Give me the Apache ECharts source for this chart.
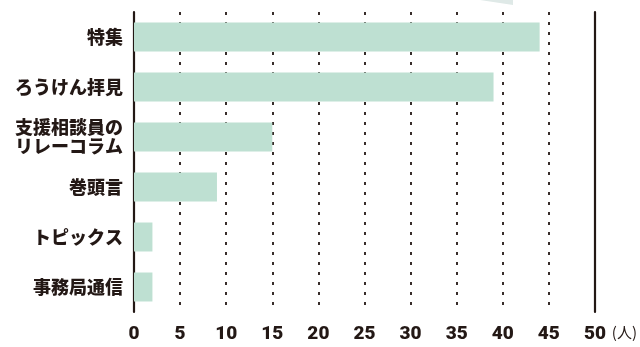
<!DOCTYPE html>
<html>
<head>
<meta charset="utf-8">
<script src="https://cdn.jsdelivr.net/npm/echarts@6/dist/echarts.min.js"></script>
<style>
  html, body { margin: 0; padding: 0; background: #fff; }
  #chart { width: 640px; height: 347px; }
</style>
</head>
<body>
<div id="chart"></div>
<script>
// Readership by section (people)
const categories = ['特集', 'ろうけん拝見', '支援相談員の\nリレーコラム', '巻頭言', 'トピックス', '事務局通信'];
const counts = [44, 39, 15, 9, 2, 2];
const axisMin = 0;
const axisMax = 50;
const axisStep = 5;
const unitLabel = '(人)';

const ink = '#231815';
const barColor = '#bee0d2';

const chart = echarts.init(document.getElementById('chart'), null, { renderer: 'canvas' });

chart.setOption({
  animation: false,
  backgroundColor: '#ffffff',
  grid: { left: 134, right: 43, top: 12, bottom: 35, containLabel: false },
  xAxis: {
    type: 'value',
    min: axisMin,
    max: axisMax,
    interval: axisStep,
    name: unitLabel,
    nameLocation: 'end',
    nameGap: 6,
    nameTextStyle: {
      color: ink,
      fontSize: 15,
      fontFamily: 'Noto Sans CJK JP',
      verticalAlign: 'top',
      padding: [13, 0, 0, 0]
    },
    axisLine: { show: false },
    axisTick: { show: false },
    axisLabel: {
      color: ink,
      fontSize: 19,
      fontWeight: 900,
      fontFamily: 'Roboto',
      margin: 13
    },
    splitLine: {
      show: true,
      showMinLine: false,
      showMaxLine: false,
      lineStyle: { color: ink, width: 1.8, type: [3, 7] }
    }
  },
  yAxis: [
    {
      type: 'category',
      data: categories,
      inverse: true,
      axisLine: { show: true, lineStyle: { color: ink, width: 2.2 } },
      axisTick: { show: false },
      axisLabel: {
        color: ink,
        fontSize: 18,
        fontWeight: 900,
        fontFamily: 'Noto Sans CJK JP',
        lineHeight: 19,
        margin: 11,
        align: 'right'
      },
      splitLine: { show: false }
    },
    {
      type: 'category',
      data: categories,
      inverse: true,
      position: 'right',
      axisLine: { show: true, lineStyle: { color: ink, width: 2.2 } },
      axisTick: { show: false },
      axisLabel: { show: false },
      splitLine: { show: false }
    }
  ],
  series: [
    {
      type: 'bar',
      data: counts,
      barWidth: 29,
      itemStyle: { color: barColor },
      z: 1
    }
  ],
  graphic: [
    {
      type: 'polygon',
      shape: { points: [[480, 0], [513, 0], [513, 5]] },
      style: { fill: '#dfe9e7' },
      silent: true
    }
  ]
});
</script>
</body>
</html>
